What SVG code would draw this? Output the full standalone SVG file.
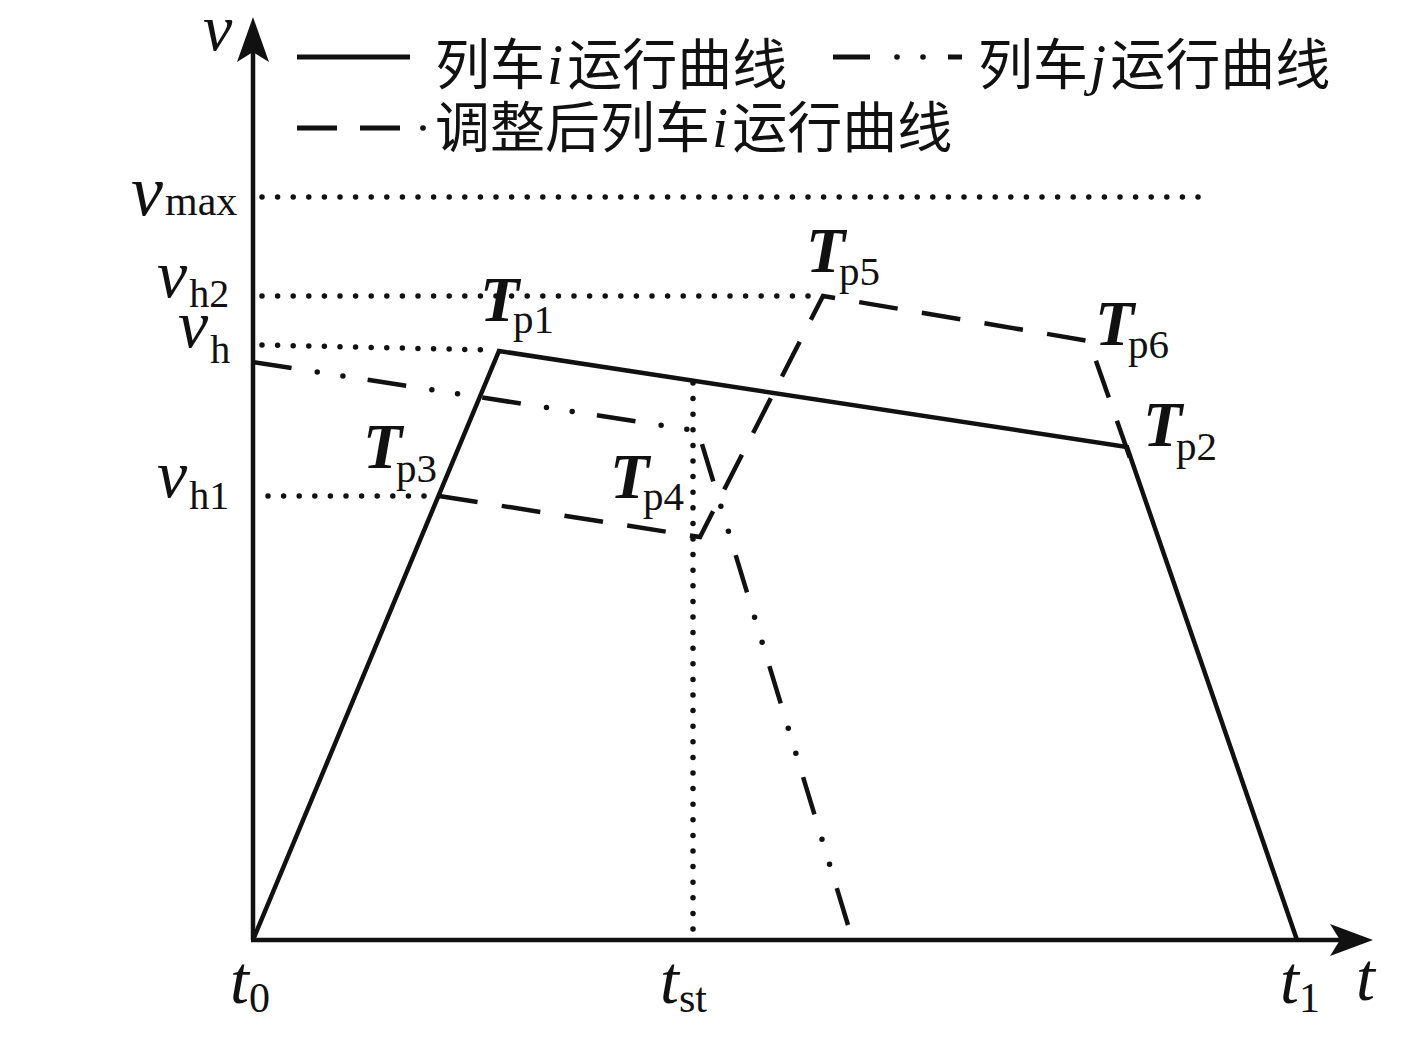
<svg xmlns="http://www.w3.org/2000/svg" width="1423" height="1038" viewBox="0 0 1423 1038">
<style>
.ln{fill:none;stroke:#111;stroke-width:4.5;stroke-linejoin:miter}
.dot{fill:none;stroke:#111;stroke-width:5.5;stroke-linecap:round;stroke-dasharray:0 15.6}
.dash{fill:none;stroke:#111;stroke-width:4.5;stroke-dasharray:39 24.5}
.m{font-family:"Liberation Serif","Times New Roman",serif;fill:#111}
.it{font-style:italic}
.T{font-style:italic;font-weight:bold;font-size:64px}
.cjk{font-family:"Noto Sans CJK SC","Noto Sans",sans-serif;font-size:55px;fill:#111}
</style>
<rect width="1423" height="1038" fill="#fff"/>
<g id="axes">
<line class="ln" x1="253" y1="940" x2="253" y2="52"/>
<polygon points="253,17 237,62 253,52 269,62" fill="#111"/>
<line class="ln" x1="251" y1="940" x2="1345" y2="940"/>
<polygon points="1373,940 1330,924 1340,940 1330,956" fill="#111"/>
</g>
<g id="guides">
<line class="dot" x1="262" y1="197" x2="1213" y2="197"/>
<line class="dot" x1="262" y1="296" x2="815" y2="296"/>
<line class="dot" x1="262" y1="345" x2="490" y2="350"/>
<line class="dot" x1="268" y1="496" x2="432" y2="496"/>
<line class="dot" x1="693" y1="383" x2="693" y2="936"/>
</g>
<g id="connectors">
<path id="train-i" class="ln" d="M253,940 L499,351 L1127,447 L1297,940"/>
<path id="train-i-adjusted" class="dash" d="M439,496 L700,537 L823,296 L1089,341 L1130,458"/>
<g id="train-j">
<path fill="none" stroke="#111" stroke-width="4.5" stroke-dasharray="39 77" d="M253,362 L698,431 L848,925"/>
<path fill="none" stroke="#111" stroke-width="5.5" stroke-linecap="round" stroke-dasharray="0 26 0 90" stroke-dashoffset="51" d="M253,362 L698,431 L848,925"/>
</g>
</g>
<g id="legend">
<line x1="297" y1="57" x2="410" y2="57" stroke="#111" stroke-width="5"/>
<text class="cjk" x="435" y="84">列车<tspan class="m it" font-size="58" dx="2">i</tspan><tspan dx="4">运行曲线</tspan></text>
<line x1="833" y1="57" x2="870" y2="57" stroke="#111" stroke-width="5"/>
<circle cx="897" cy="57" r="2.8" fill="#111"/>
<circle cx="923" cy="57" r="2.8" fill="#111"/>
<line x1="948" y1="57" x2="962" y2="57" stroke="#111" stroke-width="5"/>
<text class="cjk" x="978" y="84">列车<tspan class="m it" font-size="58" dx="2">j</tspan><tspan dx="4">运行曲线</tspan></text>
<line x1="297" y1="128" x2="337" y2="128" stroke="#111" stroke-width="5"/>
<line x1="360" y1="128" x2="400" y2="128" stroke="#111" stroke-width="5"/>
<circle cx="423" cy="128" r="2.8" fill="#111"/>
<text class="cjk" x="435" y="147">调整后列车<tspan class="m it" font-size="58" dx="2">i</tspan><tspan dx="4">运行曲线</tspan></text>
</g>
<g id="labels-v">
<text class="m it" x="203" y="50" font-size="66">v</text>
<text class="m" x="131" y="215"><tspan class="it" font-size="72">v</tspan><tspan font-size="42" dx="2">max</tspan></text>
<text class="m" x="157" y="297"><tspan class="it" font-size="68">v</tspan><tspan font-size="40" dx="2" dy="10">h2</tspan></text>
<text class="m" x="178" y="347"><tspan class="it" font-size="68">v</tspan><tspan font-size="40" dx="2" dy="16">h</tspan></text>
<text class="m" x="157" y="497"><tspan class="it" font-size="68">v</tspan><tspan font-size="40" dx="2" dy="12">h1</tspan></text>
</g>
<g id="labels-t">
<text class="m" x="230" y="1003"><tspan class="it" font-size="68">t</tspan><tspan font-size="42" dy="9">0</tspan></text>
<text class="m" x="660" y="1003"><tspan class="it" font-size="68">t</tspan><tspan font-size="42" dy="9">st</tspan></text>
<text class="m" x="1280" y="1003"><tspan class="it" font-size="68">t</tspan><tspan font-size="42" dy="9">1</tspan></text>
<text class="m it" x="1356" y="1000" font-size="68">t</text>
</g>
<g id="labels-T">
<text class="m" x="480" y="321"><tspan class="T">T</tspan><tspan font-size="41" dx="-6" dy="12">p1</tspan></text>
<text class="m" x="1143" y="446"><tspan class="T">T</tspan><tspan font-size="41" dx="-6" dy="14">p2</tspan></text>
<text class="m" x="363" y="468"><tspan class="T">T</tspan><tspan font-size="41" dx="-6" dy="14">p3</tspan></text>
<text class="m" x="610" y="498"><tspan class="T">T</tspan><tspan font-size="41" dx="-6" dy="12">p4</tspan></text>
<text class="m" x="806" y="272"><tspan class="T">T</tspan><tspan font-size="41" dx="-6" dy="13">p5</tspan></text>
<text class="m" x="1095" y="345"><tspan class="T">T</tspan><tspan font-size="41" dx="-6" dy="13">p6</tspan></text>
</g>
</svg>
